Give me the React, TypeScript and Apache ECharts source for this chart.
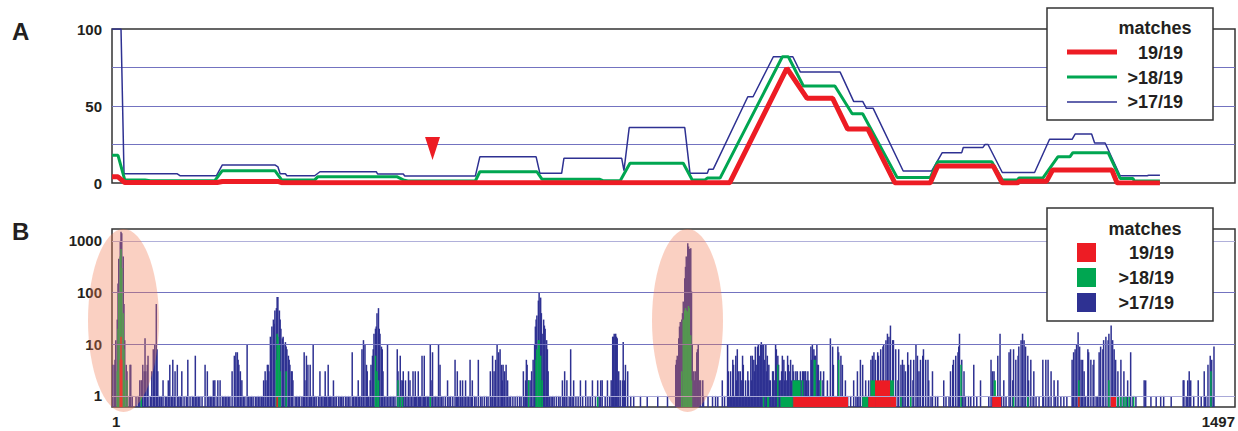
import React, { useEffect, useRef } from 'react';
import * as echarts from 'echarts';

const SERIES_NAMES = ['19/19', '>18/19', '>17/19'];
const COLORS = ['#ed1c24', '#00a651', '#2e3192'];
const POS_MIN = 1;
const POS_MAX = 1497;
const X_TICKS = [1, 1497];
const Y_TICKS_A = [0, 50, 100];
const Y_TICKS_B = [1, 10, 100, 1000];
const LOG_MIN = 0.61;
const LOG_MAX = 1700;

// Panel A: sliding-window number of matches (position, count)
const lineRed: [number, number][] = [
  [1, 4], [9, 4], [18, 0.3], [141, 0.3], [148, 1], [222, 1], [227, 0.2], [824, 0.2], [900, 74.5], [927, 55],
  [961, 55], [981, 35], [1008, 35], [1044, 0], [1091, 0], [1101, 11], [1175, 11], [1187, 0], [1207, 0],
  [1210, 1.2], [1246, 1.2], [1254, 8.4], [1333, 8.4], [1340, 0], [1397, 0],
];
const lineGreen: [number, number][] = [
  [1, 18], [9, 18], [18, 2], [45, 2], [52, 1.5], [138, 1.5], [148, 8], [218, 8], [227, 2], [271, 2], [275, 4],
  [381, 4], [389, 2], [395, 1.3], [485, 1.3], [491, 7.3], [567, 7.3], [574, 2.4], [651, 2.4], [655, 1.5],
  [678, 1.5], [691, 12.8], [762, 12.8], [774, 2], [791, 2], [794, 3.2], [811, 3.2], [894, 82], [902, 82],
  [922, 63], [964, 63], [987, 45], [1001, 45], [1047, 3.5], [1091, 3.5], [1101, 13.8], [1173, 13.8], [1187, 2],
  [1207, 2], [1209, 3.2], [1241, 3.2], [1261, 17], [1277, 17], [1281, 19.7], [1328, 19.7], [1344, 3],
  [1361, 3], [1363, 1.3], [1397, 1.3],
];
const lineBlue: [number, number][] = [
  [1, 100], [13, 100], [17, 6], [88, 6], [92, 4.7], [140, 4.7], [148, 11.7], [218, 11.7], [222, 10.5],
  [225, 6], [232, 6], [234, 4.7], [271, 4.7], [278, 7.3], [353, 7.3], [355, 5.8], [389, 5.8], [391, 4.5],
  [485, 4.5], [491, 17], [566, 17], [571, 6.3], [600, 6.3], [603, 16], [680, 16], [683, 8], [690, 36],
  [764, 36], [771, 6.3], [794, 6.3], [796, 9], [802, 9], [848, 56], [855, 56], [882, 82], [908, 82],
  [918, 72], [971, 72], [989, 53], [1001, 53], [1006, 48.5], [1015, 48.5], [1055, 7.8], [1093, 7.8],
  [1107, 19.7], [1133, 19.7], [1135, 23], [1161, 23], [1164, 25], [1168, 25], [1187, 6.8], [1230, 6.8],
  [1250, 28.4], [1280, 28.4], [1284, 31.8], [1306, 31.8], [1310, 26], [1324, 26], [1344, 4.7], [1380, 4.7],
  [1382, 5], [1397, 5],
];
const arrowMark: [number, number] = [428, 22.4];

// Panel B: number of sites per position (position, count)
const barBlue: [number, number][] = [
  [2, 4], [4, 4], [5, 5], [6, 12], [8, 30], [9, 150], [10, 450], [12, 1000], [13, 1500], [14, 1400], [16, 500],
  [17, 60], [18, 12], [20, 4], [21, 3], [24, 1], [25, 4], [26, 4], [28, 1], [33, 1], [36, 1],
  [38, 2], [40, 2], [41, 2], [42, 4], [44, 3], [45, 13], [46, 3], [48, 4], [49, 6], [52, 1], [54, 3], [56, 8],
  [57, 5], [58, 10], [60, 60], [61, 8], [62, 3], [64, 1],
  [65, 1], [67, 1], [69, 2], [72, 1], [74, 1], [76, 2], [78, 4], [80, 1], [82, 5], [84, 1], [85, 3], [88, 4],
  [90, 1], [92, 1], [94, 3], [97, 1], [100, 1], [102, 5], [105, 1], [108, 1], [110, 1], [112, 6], [114, 1],
  [116, 1], [118, 1], [121, 1], [125, 4], [128, 3], [130, 1], [132, 1], [134, 1], [136, 2], [138, 2], [141, 1],
  [142, 2], [145, 2], [148, 1], [150, 1], [152, 1], [154, 1], [156, 1], [158, 1], [161, 3], [164, 6], [166, 7],
  [168, 7], [169, 5], [170, 4], [172, 3], [174, 2], [176, 1], [178, 1], [181, 10], [183, 1], [185, 1], [187, 1],
  [189, 1], [192, 1], [194, 1], [196, 1], [198, 1], [200, 1],
  [202, 1], [203, 2], [205, 3], [206, 2], [208, 4], [209, 4], [210, 3], [212, 14], [213, 10], [214, 22],
  [216, 30], [217, 25], [218, 45], [220, 50], [221, 82], [222, 82], [224, 45], [225, 30], [226, 20], [228, 13],
  [229, 14], [230, 10], [232, 11], [233, 9], [234, 8], [236, 6], [237, 5], [238, 4], [240, 3], [241, 3],
  [242, 2], [245, 1], [247, 1], [249, 1], [251, 1],
  [254, 1], [256, 1], [257, 7], [258, 2], [260, 6], [262, 4], [264, 1], [265, 4], [267, 1], [269, 10], [271, 1],
  [273, 1], [276, 1], [278, 3], [280, 1], [282, 1], [284, 1], [285, 3], [287, 1], [289, 4], [291, 1], [292, 1],
  [294, 1], [296, 2], [298, 1], [300, 1], [303, 1], [305, 1], [307, 1], [309, 1], [312, 1], [314, 1], [316, 1],
  [318, 1], [321, 7], [323, 1], [325, 1], [327, 1], [329, 2], [331, 1], [333, 1], [334, 8], [336, 12],
  [338, 10], [340, 4], [341, 3], [343, 1],
  [345, 2], [346, 4], [348, 6], [349, 8], [350, 16], [352, 20], [353, 22], [354, 40], [356, 50], [357, 20],
  [358, 16], [360, 9], [361, 8], [362, 3], [364, 1], [366, 1], [368, 10], [370, 1], [372, 1], [374, 1],
  [376, 1], [378, 1], [381, 8], [382, 3], [384, 1], [385, 6], [386, 2], [388, 2], [389, 3], [390, 1], [392, 2],
  [394, 1], [396, 3], [398, 2], [400, 1], [402, 3], [404, 1], [405, 3], [407, 1], [409, 3], [411, 1], [412, 1],
  [414, 6], [416, 1], [417, 6], [419, 1], [421, 1], [423, 1], [425, 10], [426, 2], [428, 7], [430, 1],
  [432, 1], [434, 1], [436, 10], [438, 4], [440, 1], [442, 1], [445, 1], [448, 2], [450, 1], [452, 1],
  [455, 1], [458, 5], [460, 1], [461, 3], [463, 1], [465, 2], [466, 1], [468, 2], [470, 1], [472, 2],
  [474, 1], [476, 1], [478, 5], [480, 1], [481, 2], [484, 1], [486, 1], [489, 5], [492, 1], [494, 1],
  [497, 1], [500, 1], [502, 1],
  [505, 3], [506, 1], [508, 6], [510, 3], [511, 1], [512, 5], [514, 10], [516, 7], [518, 8], [520, 4],
  [521, 2], [522, 4], [524, 3], [526, 4], [528, 2], [530, 1], [532, 1], [535, 1], [538, 1], [541, 1],
  [544, 1], [546, 1],
  [549, 3], [550, 1], [552, 2], [553, 5], [554, 4], [556, 2], [558, 2], [560, 3], [562, 5], [564, 10],
  [565, 22], [566, 30], [567, 36], [569, 70], [570, 100], [572, 80], [573, 40], [574, 16], [576, 30],
  [577, 23], [578, 20], [580, 12], [581, 8], [582, 3], [584, 1], [586, 1], [588, 1],
  [590, 1], [593, 1], [596, 1], [598, 1], [601, 2], [603, 1], [604, 3], [606, 1], [607, 2], [610, 1],
  [612, 8], [614, 1], [616, 2], [619, 1], [622, 1], [625, 2], [628, 1], [632, 2], [635, 1], [638, 1],
  [641, 2], [645, 1], [648, 2], [650, 1], [652, 2], [654, 2], [658, 1], [661, 2], [664, 1], [666, 2],
  [668, 14], [669, 14], [670, 16], [672, 16], [673, 14], [674, 13], [676, 3], [678, 2], [681, 2], [682, 11],
  [684, 2], [685, 4], [688, 3], [692, 1], [696, 1], [705, 1], [714, 1], [728, 1], [741, 1],
  [752, 4], [753, 5], [754, 6], [756, 13], [757, 22], [758, 27], [760, 30], [761, 40], [762, 67], [764, 190],
  [765, 315], [766, 500], [768, 900], [769, 780], [770, 700], [772, 720], [773, 105], [774, 10], [776, 3],
  [777, 2], [778, 3], [780, 7], [781, 8], [782, 10], [784, 2], [785, 2], [788, 2], [789, 1], [795, 1],
  [801, 1], [805, 1], [808, 1], [814, 2], [817, 1], [821, 10], [822, 3], [824, 1], [825, 3], [826, 1],
  [828, 5], [829, 4], [830, 1], [832, 6], [833, 2], [834, 8], [836, 3], [837, 1], [838, 3], [840, 2],
  [841, 6], [842, 4], [844, 1], [845, 2], [846, 1], [848, 3], [849, 2], [850, 1], [852, 6], [853, 2],
  [854, 6], [856, 5], [857, 3], [858, 9], [860, 4], [861, 9], [862, 10], [864, 6], [865, 10], [866, 11],
  [868, 10], [869, 10], [870, 5], [872, 10], [873, 3], [874, 6], [876, 4], [877, 2], [878, 2], [880, 1],
  [881, 3], [882, 3], [884, 2], [885, 10], [886, 8], [888, 6], [889, 4], [890, 2], [892, 2], [893, 3],
  [894, 6], [896, 5], [897, 2], [898, 3], [900, 2], [901, 6], [902, 4], [904, 3], [905, 5], [906, 2],
  [908, 4], [909, 3], [910, 2], [912, 3], [913, 2], [914, 3], [916, 2], [917, 1], [918, 3], [920, 2],
  [921, 3], [922, 3], [924, 3], [925, 3], [926, 2], [928, 3], [929, 2], [930, 1], [932, 9], [933, 5],
  [934, 10], [936, 8], [937, 6], [938, 6], [940, 10], [941, 4], [942, 4], [944, 2], [945, 3],
  [948, 2], [949, 3], [952, 1], [954, 2], [956, 1], [958, 13], [961, 9], [962, 4], [965, 1], [968, 9],
  [969, 7], [972, 6], [974, 4], [976, 1], [978, 2], [981, 1], [985, 1], [989, 2], [992, 1], [994, 3],
  [996, 1], [998, 5], [1001, 4], [1002, 1], [1005, 2], [1008, 1], [1009, 2], [1012, 5], [1014, 6], [1016, 7],
  [1018, 5], [1021, 7], [1022, 6], [1025, 8], [1028, 9], [1029, 10], [1032, 12], [1034, 16], [1036, 14],
  [1038, 23], [1041, 12], [1042, 12], [1045, 8], [1048, 2], [1049, 8], [1052, 4], [1054, 5], [1056, 4],
  [1058, 3], [1061, 7], [1062, 4], [1065, 5], [1068, 2], [1069, 5], [1072, 10], [1074, 6], [1076, 3],
  [1078, 5], [1081, 6], [1082, 8], [1085, 5], [1088, 5], [1089, 2], [1092, 1], [1094, 3], [1098, 1],
  [1101, 1], [1109, 2], [1112, 1], [1116, 1], [1118, 3], [1121, 4], [1122, 5], [1125, 6], [1128, 7],
  [1129, 9], [1130, 16], [1133, 5], [1134, 1], [1136, 3], [1138, 1], [1142, 1], [1145, 1], [1149, 4],
  [1153, 1], [1158, 2], [1169, 1], [1172, 5], [1174, 3], [1176, 3], [1178, 1], [1181, 6], [1184, 16],
  [1186, 1], [1189, 2], [1192, 1], [1196, 7], [1198, 8], [1201, 2], [1202, 8], [1205, 5], [1208, 6],
  [1209, 9], [1212, 12], [1214, 16], [1216, 12], [1218, 9], [1221, 6], [1222, 2], [1225, 5], [1228, 1],
  [1229, 3], [1232, 1], [1236, 1], [1241, 5], [1242, 1], [1245, 5], [1248, 5], [1249, 1], [1252, 3],
  [1256, 2], [1258, 1], [1261, 2], [1265, 1], [1269, 1], [1273, 1], [1280, 5], [1281, 1], [1282, 7],
  [1284, 8], [1286, 10], [1288, 17], [1290, 9], [1292, 5], [1293, 1], [1294, 5], [1296, 3], [1298, 1],
  [1301, 8], [1302, 7], [1305, 5], [1308, 4], [1309, 5], [1312, 1], [1314, 1], [1316, 7], [1318, 9],
  [1321, 8], [1322, 12], [1325, 14], [1328, 12], [1329, 16], [1332, 23], [1334, 12], [1336, 8], [1338, 5],
  [1341, 3], [1342, 1], [1345, 5], [1348, 1], [1349, 3], [1352, 1], [1354, 2], [1357, 1], [1358, 7],
  [1361, 1], [1365, 1], [1376, 2], [1378, 2], [1385, 1], [1392, 1], [1398, 1], [1402, 1], [1412, 1],
  [1428, 2], [1429, 2], [1432, 1], [1434, 2], [1436, 3], [1438, 2], [1442, 1], [1448, 2], [1452, 1],
  [1456, 3], [1458, 1], [1461, 4], [1464, 6], [1466, 5], [1468, 1], [1469, 9],
];
// (start position, end position, count)
const barGreen: [number, number, number][] = [
  [8, 8, 3], [9, 9, 20], [10, 10, 100], [12, 12, 500], [13, 13, 700], [14, 14, 300], [16, 16, 40], [17, 17, 8],
  [18, 18, 2], [21, 21, 2], [40, 40, 1],
  [220, 220, 5], [221, 221, 16], [222, 222, 14], [224, 224, 10], [225, 225, 3], [233, 233, 3],
  [352, 352, 6], [354, 354, 3], [356, 356, 2], [382, 382, 2], [385, 385, 1], [388, 388, 1], [425, 425, 1],
  [556, 556, 2], [566, 566, 5], [567, 567, 8], [569, 569, 12], [570, 570, 12], [572, 572, 6], [574, 574, 2],
  [648, 648, 1],
  [760, 760, 3], [762, 762, 30], [764, 764, 45], [765, 765, 50], [766, 766, 45], [768, 768, 43],
  [769, 769, 55], [770, 770, 50], [772, 772, 15], [773, 773, 2],
  [869, 869, 1], [874, 876, 1], [888, 888, 4], [892, 907, 1], [908, 918, 2], [921, 921, 2], [936, 938, 5],
  [945, 945, 2], [969, 969, 5], [1001, 1008, 1], [1012, 1017, 2], [1038, 1042, 2], [1052, 1052, 1],
  [1065, 1065, 1], [1132, 1132, 4], [1176, 1178, 2], [1202, 1202, 1], [1221, 1221, 1], [1289, 1289, 2],
  [1329, 1329, 2], [1341, 1341, 1], [1345, 1345, 1], [1349, 1349, 1], [1352, 1352, 1], [1356, 1356, 1],
  [1362, 1362, 1], [1465, 1465, 3],
];
const barRed: [number, number, number][] = [
  [12, 12, 5], [13, 13, 14], [14, 14, 5], [221, 221, 1], [909, 981, 1], [1009, 1017, 1], [1018, 1037, 2],
  [1038, 1045, 1], [1174, 1185, 1], [1289, 1289, 1], [1332, 1338, 1],
];

const FONT = '"Liberation Sans", Arial, Helvetica, sans-serif';
const TEXT = '#231f20';
const MIN_BAR_PX = 1.5;

function barSeries(name: string, color: string, data: number[][], z: number) {
  return {
    type: 'custom',
    name,
    xAxisIndex: 1,
    yAxisIndex: 1,
    z,
    clip: true,
    data,
    encode: { x: [0, 1], y: 2 },
    renderItem: (_p: any, api: any) => {
      const s = api.value(0);
      const e = api.value(1);
      const c = api.value(2);
      const tl = api.coord([s - 0.5, c]);
      const br = api.coord([e + 0.5, LOG_MIN]);
      let x = tl[0];
      let w = br[0] - tl[0];
      if (w < MIN_BAR_PX) {
        x -= (MIN_BAR_PX - w) / 2;
        w = MIN_BAR_PX;
      }
      return {
        type: 'rect',
        shape: { x, y: tl[1], width: w, height: br[1] - tl[1] },
        style: { fill: color },
      };
    },
  };
}

function txt(text: string, x: number, y: number, size: number, align: string, z = 60) {
  return {
    type: 'text',
    x,
    y,
    z,
    silent: true,
    style: {
      text,
      fill: TEXT,
      font: `bold ${size}px ${FONT}`,
      align,
      verticalAlign: 'middle',
      textAlign: align,
      textVerticalAlign: 'middle',
    },
  };
}

export default function App() {
  const ref = useRef<HTMLDivElement>(null);
  useEffect(() => {
    document.body.style.margin = '0';
    if (!ref.current) return;
    const chart = echarts.init(ref.current, undefined, { renderer: 'svg' });
    const axisLabelStyle = { fontSize: 15, fontWeight: 'bold', color: TEXT, fontFamily: FONT };
    const option: any = {
      animation: false,
      textStyle: { fontFamily: FONT },
      grid: [
        { left: 112, top: 29, width: 1123, height: 154, show: true, borderColor: '#333', borderWidth: 1.5 },
        { left: 112, top: 229, width: 1123, height: 178, show: true, borderColor: '#333', borderWidth: 1.5 },
      ],
      xAxis: [
        {
          type: 'value', gridIndex: 0, min: POS_MIN, max: POS_MAX,
          axisLine: { show: false }, axisTick: { show: false }, axisLabel: { show: false }, splitLine: { show: false },
        },
        {
          type: 'value', gridIndex: 1, min: POS_MIN, max: POS_MAX,
          axisLine: { show: false }, axisTick: { show: false }, splitLine: { show: false },
          axisLabel: {
            ...axisLabelStyle, customValues: X_TICKS, margin: 7,
            alignMinLabel: 'left', alignMaxLabel: 'right', showMinLabel: true, showMaxLabel: true,
            formatter: (v: number) => String(v),
          },
        },
      ],
      yAxis: [
        {
          type: 'value', gridIndex: 0, min: 0, max: 100, interval: 25,
          axisLine: { show: false }, axisTick: { show: false },
          axisLabel: { ...axisLabelStyle, margin: 10, formatter: (v: number) => (Y_TICKS_A.includes(v) ? String(v) : '') },
          splitLine: { show: true, showMinLine: false, showMaxLine: false, lineStyle: { color: '#7373c0', width: 1 } },
        },
        {
          type: 'log', logBase: 10, gridIndex: 1, min: LOG_MIN, max: LOG_MAX, z: 6,
          axisLine: { show: false }, axisTick: { show: false },
          axisLabel: {
            ...axisLabelStyle, margin: 10,
            formatter: (v: number) => {
              const t = Y_TICKS_B.find((k) => Math.abs(k - v) / k < 1e-6);
              return t === undefined ? '' : String(t);
            },
          },
          splitLine: {
            show: true, showMinLine: false, showMaxLine: false,
            lineStyle: { color: ['#a9a9d8', '#7373c0', '#7373c0', '#b0b0da'], width: 1.2 },
          },
        },
      ],
      series: [
        {
          type: 'line', name: SERIES_NAMES[2], xAxisIndex: 0, yAxisIndex: 0, data: lineBlue,
          symbol: 'none', showSymbol: false, z: 3, lineStyle: { color: COLORS[2], width: 1.5 },
        },
        {
          type: 'line', name: SERIES_NAMES[1], xAxisIndex: 0, yAxisIndex: 0, data: lineGreen,
          symbol: 'none', showSymbol: false, z: 4, lineStyle: { color: COLORS[1], width: 3 },
        },
        {
          type: 'line', name: SERIES_NAMES[0], xAxisIndex: 0, yAxisIndex: 0, data: lineRed,
          symbol: 'none', showSymbol: false, z: 5, lineStyle: { color: COLORS[0], width: 5 },
          markPoint: {
            symbol: 'triangle', symbolRotate: 180, symbolSize: [15, 23], silent: true,
            itemStyle: { color: COLORS[0] }, label: { show: false },
            data: [{ coord: arrowMark }],
          },
        },
        barSeries(SERIES_NAMES[2], COLORS[2], barBlue.map(([p, c]) => [p, p, c]), 3),
        barSeries(SERIES_NAMES[1], COLORS[1], barGreen, 4),
        barSeries(SERIES_NAMES[0], COLORS[0], barRed, 5),
      ],
      graphic: [
        // highlighted regions
        { type: 'ellipse', z: 100, silent: true, shape: { cx: 123.5, cy: 320.5, rx: 35.5, ry: 91.5 }, style: { fill: 'rgba(240,120,80,0.35)' } },
        { type: 'ellipse', z: 100, silent: true, shape: { cx: 687.5, cy: 320.5, rx: 35.5, ry: 91.5 }, style: { fill: 'rgba(240,120,80,0.35)' } },
        // panel letters
        txt('A', 12, 31, 24, 'left'),
        txt('B', 12, 231, 24, 'left'),
        // legend A
        { type: 'rect', z: 50, silent: true, shape: { x: 1047, y: 8, width: 166, height: 112 }, style: { fill: '#fff', stroke: '#333', lineWidth: 1.5 } },
        txt('matches', 1155, 28, 18, 'center'),
        { type: 'line', z: 60, silent: true, shape: { x1: 1067, y1: 52, x2: 1117, y2: 52 }, style: { stroke: COLORS[0], lineWidth: 5 } },
        { type: 'line', z: 60, silent: true, shape: { x1: 1067, y1: 77, x2: 1117, y2: 77 }, style: { stroke: COLORS[1], lineWidth: 3 } },
        { type: 'line', z: 60, silent: true, shape: { x1: 1067, y1: 102, x2: 1117, y2: 102 }, style: { stroke: COLORS[2], lineWidth: 1.5 } },
        txt(SERIES_NAMES[0], 1183, 53, 18, 'right'),
        txt(SERIES_NAMES[1], 1183, 78, 18, 'right'),
        txt(SERIES_NAMES[2], 1183, 102, 18, 'right'),
        // legend B
        { type: 'rect', z: 50, silent: true, shape: { x: 1047, y: 208, width: 166, height: 113 }, style: { fill: '#fff', stroke: '#333', lineWidth: 1.5 } },
        txt('matches', 1145, 229, 18, 'center'),
        { type: 'rect', z: 60, silent: true, shape: { x: 1077, y: 243, width: 19, height: 19 }, style: { fill: COLORS[0] } },
        { type: 'rect', z: 60, silent: true, shape: { x: 1077, y: 268, width: 19, height: 19 }, style: { fill: COLORS[1] } },
        { type: 'rect', z: 60, silent: true, shape: { x: 1077, y: 293, width: 19, height: 19 }, style: { fill: COLORS[2] } },
        txt(SERIES_NAMES[0], 1174, 253, 18, 'right'),
        txt(SERIES_NAMES[1], 1174, 278, 18, 'right'),
        txt(SERIES_NAMES[2], 1174, 303, 18, 'right'),
      ],
    };
    chart.setOption(option);
    return () => chart.dispose();
  }, []);
  return <div ref={ref} style={{ width: 1238, height: 431 }} />;
}
